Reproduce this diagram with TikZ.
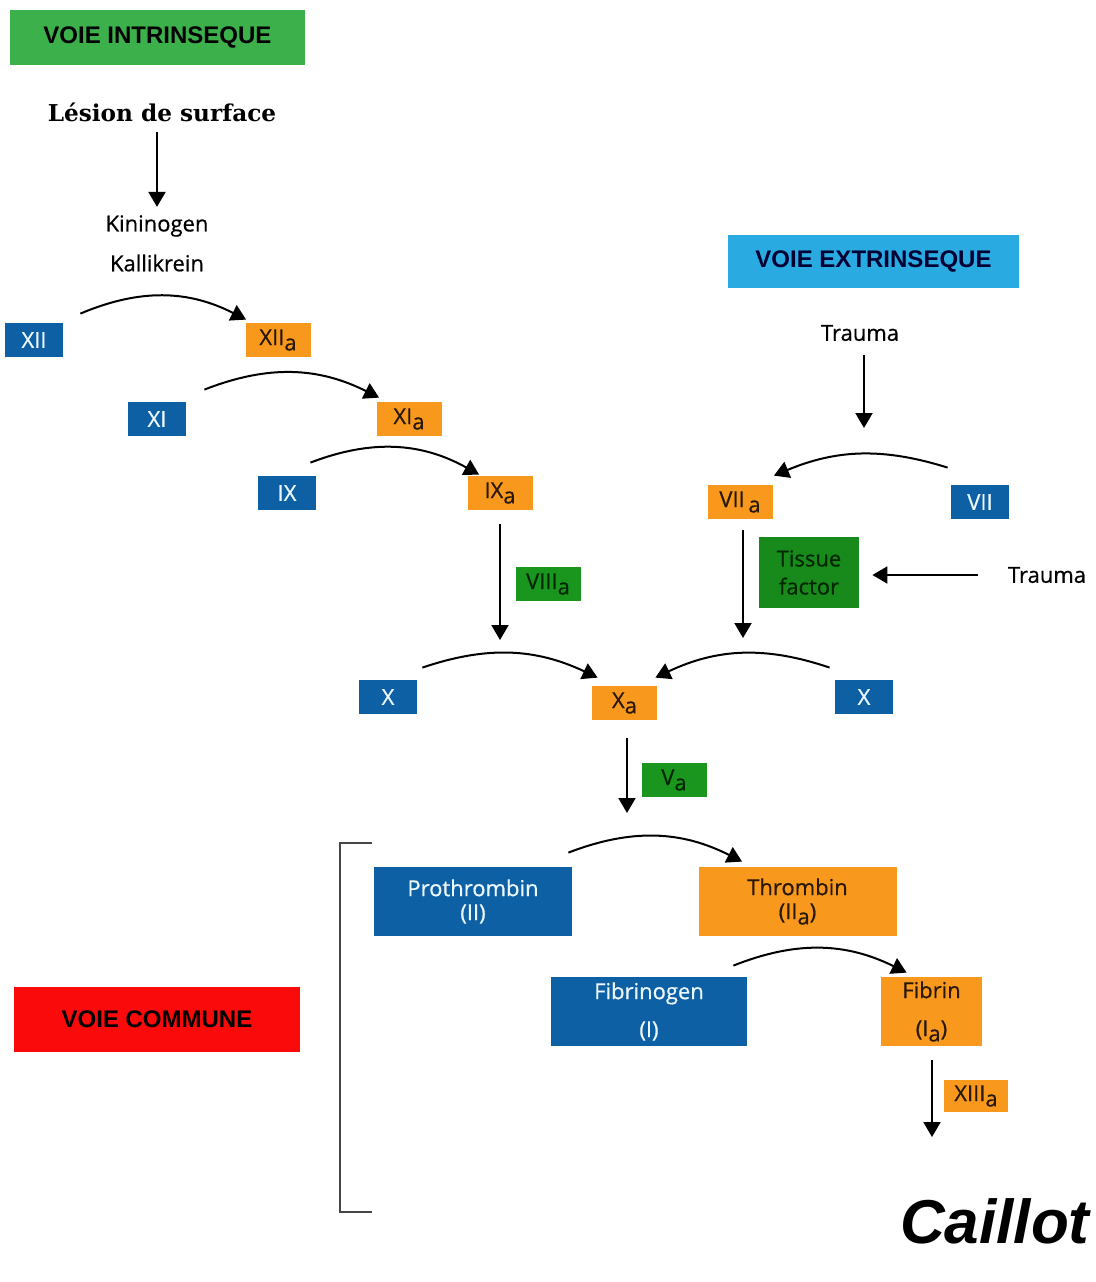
\documentclass[tikz,border=0pt]{standalone}
\usepackage{fontspec}
\setmainfont[FakeBold=0.6]{Open Sans}
\newfontfamily\headfont{Liberation Sans}
\newfontfamily\lesionfont{DejaVu Serif}
\usetikzlibrary{arrows.meta}

\definecolor{facblue}{RGB}{14,96,164}
\definecolor{facorange}{RGB}{248,152,29}
\definecolor{facgreen}{RGB}{26,150,30}
\definecolor{headgreen}{RGB}{60,176,74}
\definecolor{headblue}{RGB}{41,171,226}
\definecolor{headred}{RGB}{250,10,10}
\definecolor{darktext}{RGB}{40,24,8}
\definecolor{bracketgray}{RGB}{70,70,70}

\newcommand{\actv}{\raisebox{-0.45ex}{a}}

\begin{document}
\begin{tikzpicture}[x=0.5pt,y=-0.5pt]
\tikzstyle{every node}+=[inner sep=0pt, font=\fontsize{11}{13}\selectfont]
\tikzstyle{inactive}=[fill=facblue, text=white!92!cyan, minimum width=29pt, minimum height=17pt]
\tikzstyle{active}=[fill=facorange, text=darktext, minimum width=32.5pt, minimum height=17pt]
\tikzstyle{cofactor}=[fill=facgreen, text=black!85!green, minimum width=32.5pt, minimum height=17pt]
\tikzstyle{pathway}=[font=\headfont\bfseries\fontsize{12}{14}\selectfont, text=black]
\tikzstyle{conv}=[-{Triangle[width=8.5pt,length=7.5pt]}, line width=1pt]
\useasboundingbox (0,0) rectangle (1096,1282);

\node[pathway, fill=headgreen, minimum width=147.5pt, minimum height=27.5pt] (intr) at (157.5,37.5) {VOIE INTRINSEQUE};
\node[font=\lesionfont\bfseries\fontsize{11.6}{13}\selectfont] (lesion) at (162,112) {Lésion de surface};
\node (kinin) at (157,226) {Kininogen};
\node (kalli) at (157,263) {Kallikrein};
\draw[conv, shorten <=5pt, shorten >=4pt] (lesion.south -| kinin.north) -- (kinin.north);

\node[inactive] (xii) at (34,340) {XII};
\node[active] (xiia) at (278,340) {XII\actv};
\draw[conv] ([shift={(17,-9)}]xii.north east) to[bend left=25] ([shift={(1,-3)}]xiia.north west);
\node[inactive] (xi) at (157,419) {XI};
\node[active] (xia) at (409,419) {XI\actv};
\draw[conv] ([shift={(18,-12)}]xi.north east) to[bend left=24] ([shift={(3,-4)}]xia.north west);
\node[inactive] (ix) at (287,493) {IX};
\node[active] (ixa) at (500,493) {IX\actv};
\draw[conv] ([shift={(-6,-13)}]ix.north east) to[bend left=25] ([shift={(12,-1)}]ixa.north west);
\coordinate (ixend) at (500,640);
\draw[conv, shorten <=7pt] (ixa) -- (ixend);
\node[cofactor] (viiia) at (548,584) {VIII\actv};

\node[pathway, fill=headblue, text=black!80!blue, minimum width=145.5pt, minimum height=26.5pt] (extr) at (873.5,261.5) {VOIE EXTRINSEQUE};
\node (trauma) at (860,333) {Trauma};
\coordinate (trend) at (864,428);
\draw[conv, shorten <=7pt] (trauma.south -| trend) -- (trend);
\node[inactive] (vii) at (980,502) {VII};
\node[active] (viia) at (740,502) {VII\,\actv};
\draw[conv] ([shift={(-3,-17)}]vii.north west) to[bend right=20] ([shift={(1,-9)}]viia.north east);
\coordinate (viiend) at (743,638);
\draw[conv, shorten <=5.5pt] (viia.south -| viiend) -- (viiend);
\node[fill=facgreen!92!black, text=black!85!green, minimum width=50pt, minimum height=35.5pt, align=center, font=\fontsize{11}{14}\selectfont] (tissue) at (809,572.5) {Tissue\\factor};
\node (traumb) at (1047,575) {Trauma};
\draw[conv, shorten <=15pt, shorten >=6.5pt] (traumb.west) -- (tissue.east |- traumb.west);

\node[inactive] (xl) at (388,697) {X};
\node[active] (xa) at (624.5,703) {X\actv};
\node[inactive] (xr) at (864,697) {X};
\draw[conv] ([shift={(5,-12)}]xl.north east) to[bend left=22] ([shift={(6,-8)}]xa.north west);
\draw[conv] ([shift={(-5,-12)}]xr.north west) to[bend right=22] ([shift={(-2,-8)}]xa.north east);
\coordinate (xaend) at (627,813);
\draw[conv, shorten <=9pt] (xa.south -| xaend) -- (xaend);
\node[cofactor] (va) at (674,780) {V\actv};

\draw[bracketgray, line width=1pt] (372,843) -- (340,843) -- (340,1212) -- (372,1212);

\node[inactive, minimum width=99pt, minimum height=34.5pt, align=center, font=\fontsize{11}{12}\selectfont] (prothr) at (473,901.5) {Prothrombin\\(II)};
\node[active, minimum width=99pt, minimum height=34.5pt, align=center, font=\fontsize{11}{12}\selectfont] (thromb) at (797.5,901.5) {Thrombin\\(II\actv)};
\draw[conv] ([shift={(-4,-14)}]prothr.north east) to[bend left=24] ([shift={(44,-5)}]thromb.north west);
\node[inactive, minimum width=98pt, minimum height=34.5pt, align=center, font=\fontsize{11}{19}\selectfont] (fibgen) at (649,1011.5) {Fibrinogen\\(I)};
\node[active, minimum width=50.5pt, minimum height=34.5pt, align=center, font=\fontsize{11}{19}\selectfont] (fibrin) at (931.5,1011.5) {Fibrin\\(I\actv)};
\draw[conv] ([shift={(-14,-11)}]fibgen.north east) to[bend left=24] ([shift={(26,-4)}]fibrin.north west);
\coordinate (clotend) at (932,1137);
\draw[conv, shorten <=7pt] (fibrin.south -| clotend) -- (clotend);
\node[active, minimum width=32pt, minimum height=16pt] (xiiia) at (976,1096) {XIII\actv};

\node[pathway, fill=headred, minimum width=143pt, minimum height=32.5pt] (comm) at (157,1019.5) {VOIE COMMUNE};
\node[font=\headfont\bfseries\itshape\fontsize{31}{36}\selectfont, anchor=base east] (caillot) at (1090,1243) {Caillot};
\end{tikzpicture}
\end{document}
